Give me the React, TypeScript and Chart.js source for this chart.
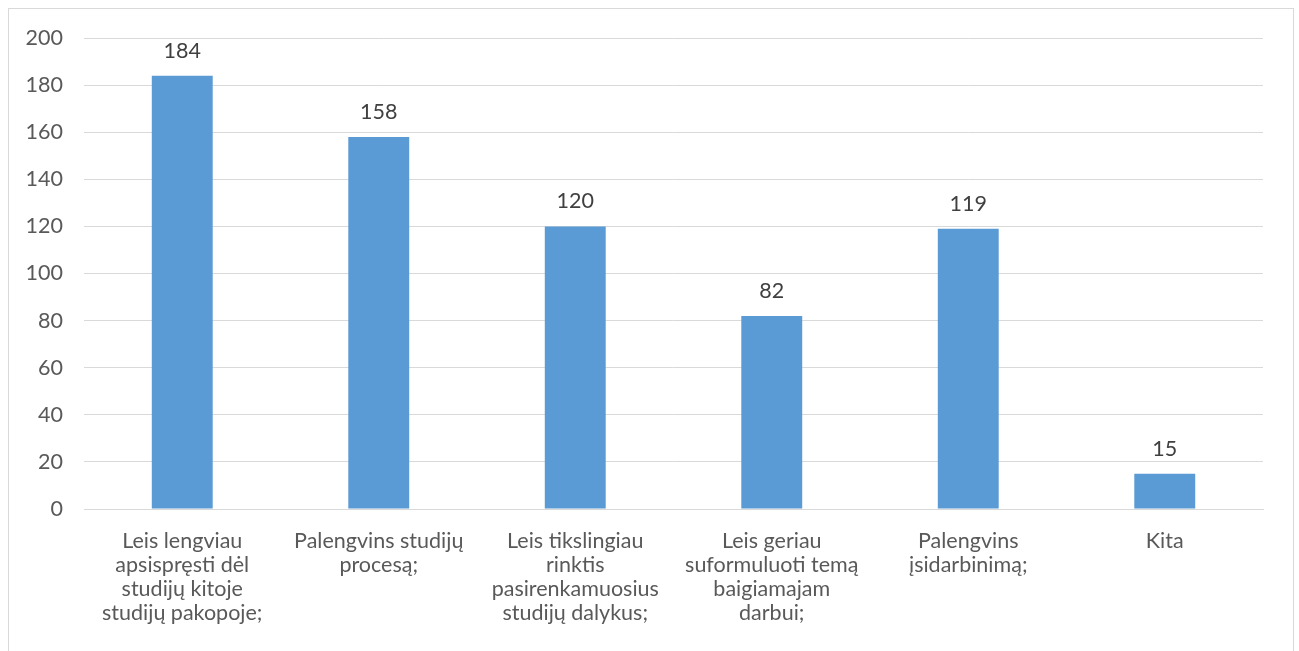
import React, { useEffect, useRef } from "react";
import { Chart, registerables } from "chart.js";

Chart.register(...registerables);

const categories: string[][] = [
  ["Leis lengviau", "apsispręsti dėl", "studijų kitoje", "studijų pakopoje;"],
  ["Palengvins studijų", "procesą;"],
  ["Leis tikslingiau", "rinktis", "pasirenkamuosius", "studijų dalykus;"],
  ["Leis geriau", "suformuluoti temą", "baigiamajam", "darbui;"],
  ["Palengvins", "įsidarbinimą;"],
  ["Kita"],
];
const values: number[] = [184, 158, 120, 82, 119, 15];
const yTicks: number[] = [0, 20, 40, 60, 80, 100, 120, 140, 160, 180, 200];

const FONT = "Lato, 'Open Sans', sans-serif";
const SIZE = 21.5;

const dataLabels = {
  id: "dataLabels",
  afterDatasetsDraw(chart: any) {
    const ctx = chart.ctx;
    const meta = chart.getDatasetMeta(0);
    ctx.save();
    ctx.font = `${SIZE}px ${FONT}`;
    ctx.fillStyle = "#404040";
    ctx.textAlign = "center";
    ctx.textBaseline = "middle";
    meta.data.forEach((bar: any, i: number) => {
      ctx.fillText(String(chart.data.datasets[0].data[i]), bar.x, bar.y - 25);
    });
    ctx.restore();
  },
};

export default function App() {
  const ref = useRef<HTMLCanvasElement>(null);
  useEffect(() => {
    if (!ref.current) return;
    const chart = new Chart(ref.current, {
      type: "bar",
      data: {
        labels: categories,
        datasets: [
          {
            data: values,
            backgroundColor: "#5B9BD5",
            borderWidth: 0,
            categoryPercentage: 1,
            barPercentage: 0.31,
          },
        ],
      },
      options: {
        animation: false,
        responsive: false,
        maintainAspectRatio: false,
        layout: { padding: { left: 0, right: 28, top: 29, bottom: 0 } },
        plugins: {
          legend: { display: false },
          tooltip: { enabled: false },
        },
        scales: {
          x: {
            grid: { display: false, drawTicks: false },
            border: { display: true, color: "#d9d9d9", width: 1 },
            ticks: {
              color: "#595959",
              font: { family: FONT, size: SIZE, lineHeight: "24px" },
              padding: 20,
              maxRotation: 0,
              autoSkip: false,
            },
            afterFit(scale: any) {
              scale.height = 160;
            },
          },
          y: {
            min: 0,
            max: 200,
            afterBuildTicks(scale: any) {
              scale.ticks = yTicks.map((v) => ({ value: v }));
            },
            grid: { color: "#d9d9d9", lineWidth: 1, drawTicks: false },
            border: { display: false },
            ticks: {
              color: "#595959",
              font: { family: FONT, size: SIZE },
              padding: 21,
            },
            afterFit(scale: any) {
              scale.width = 75;
              scale.paddingTop = 0;
              scale.paddingBottom = 0;
            },
          },
        },
      },
      plugins: [dataLabels],
    });
    return () => chart.destroy();
  }, []);
  return (
    <div
      style={{
        position: "absolute",
        left: 8,
        top: 8,
        width: 1284,
        height: 662,
        border: "1px solid #d9d9d9",
        background: "#fff",
      }}
    >
      <canvas ref={ref} width={1282} height={660} style={{ display: "block" }} />
    </div>
  );
}
